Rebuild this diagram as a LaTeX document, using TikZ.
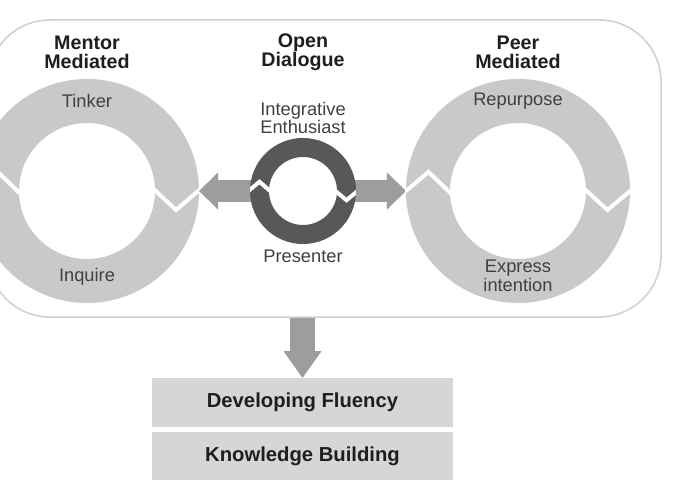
\documentclass[tikz,border=0pt]{standalone}
\usepackage{fontspec}
\setmainfont{Liberation Sans}
\usetikzlibrary{arrows.meta, positioning}

\definecolor{ringgray}{HTML}{C9C9C9}
\definecolor{darkring}{HTML}{585858}
\definecolor{arrowgray}{HTML}{9D9D9D}
\definecolor{boxgray}{HTML}{D6D6D6}
\definecolor{panelgray}{HTML}{D0D0D0}
\definecolor{inkgray}{HTML}{1E1E1E}

\tikzset{
  panel/.style={draw=panelgray, line width=1.1pt, rounded corners=1.55cm,
    minimum width=16.825cm, minimum height=7.425cm, inner sep=0pt},
  bigring/.style={circle, draw=ringgray, fill=white, line width=1.1cm,
    minimum size=4.5cm, inner sep=0pt},
  smallring/.style={circle, draw=darkring, fill=white, line width=0.475cm,
    minimum size=2.175cm, inner sep=0pt},
  notch/.style={white, line width=0.1cm},
  sidearrow/.style={draw=arrowgray, line width=0.55cm,
    -{Triangle[length=0.475cm, width=0.9cm]}},
  downarrow/.style={draw=arrowgray, line width=0.625cm,
    -{Triangle[length=0.675cm, width=0.9cm]}},
  heading/.style={align=center, text=inkgray,
    font=\fontsize{14pt}{13.5pt}\selectfont\bfseries},
  phase/.style={align=center, text=inkgray!85,
    font=\fontsize{13pt}{11.4pt}\selectfont},
  stage/.style={fill=boxgray, minimum width=7.525cm, minimum height=1.2cm,
    inner sep=0pt, text=inkgray, font=\fontsize{14.4pt}{16pt}\selectfont\bfseries}
}

\begin{document}
\begin{tikzpicture}[x=0.025cm, y=0.025cm]
  \useasboundingbox (0,0) rectangle (680,500);
  \clip (0,0) rectangle (680,500);
  \fill[white] (0,0) rectangle (680,500);

  % outer frame, runs off the left edge
  \node[panel] (panel) at (324.5,331.5) {};

  % the two mediated cycles
  \node[bigring] (lring) at (87,309) {};
  \node[bigring] (rring) at (518,309) {};

  % open dialogue in the middle
  \coordinate (mc) at (303,309);
  \draw[sidearrow] (mc) -- (lring.east);
  \draw[sidearrow] (mc) -- (rring.west);
  \node[smallring] (mring) at (mc) {};

  % white zigzag cuts in each ring
  \foreach \c/\R/\r in {lring/112/68, rring/113/68, mring/53/34}{
    \begin{scope}[shift={(\c.center)}]
      \clip (0,0) circle[radius=\R];
      \draw[notch] (182:{\R+4}) -- (168:{(\R+\r)/2+1}) -- (185:{\r-4});
      \draw[notch] (4:{\r-4}) -- (-12:{(\R+\r)/2+1}) -- (2:{\R+4});
    \end{scope}
  }

  % labels
  \node[heading] (mentor) at (87,448) {Mentor\\Mediated};
  \node[heading] (dialogue) at (303,448) {Open\\Dialogue};
  \node[heading] (peer) at (518,448) {Peer\\Mediated};
  \node[phase] (tinker) at (87,399) {Tinker};
  \node[phase] (inquire) at (87,223) {Inquire};
  \node[phase] (integr) at (303,382) {Integrative\\Enthusiast};
  \node[phase] (presenter) at (303,244) {Presenter};
  \node[phase] (repurpose) at (518,399) {Repurpose};
  \node[phase] (express) at (518,224) {Express\\intention};

  % outcomes
  \node[stage] (fluency) at (302.5,97.5) {Developing Fluency};
  \node[stage, below=0.125cm of fluency] (knowledge) {Knowledge Building};
  \draw[downarrow] (fluency.north |- panel.south) -- (fluency.north);
\end{tikzpicture}
\end{document}
